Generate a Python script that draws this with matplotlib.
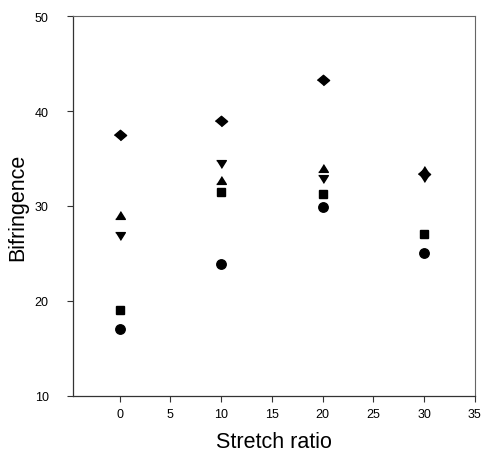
import matplotlib
matplotlib.use("Agg")
import matplotlib.pyplot as plt

# Stretch ratios and birefringence readings for five samples
stretch = [0, 10, 20, 30]
circle_vals = [17.1, 23.9, 29.9, 25.1]
square_vals = [19.0, 31.5, 31.3, 27.1]
tri_up_vals = [29.0, 32.7, 34.0, 33.8]
tri_down_vals = [26.8, 34.4, 32.8, 32.9]
diamond_vals = [37.5, 39.0, 43.3, 33.4]

x_ticks = [0, 5, 10, 15, 20, 25, 30, 35]
y_ticks = [10, 20, 30, 40, 50]

plt.rcParams["font.family"] = ["Liberation Sans", "DejaVu Sans"]

fig = plt.figure(figsize=(4.87, 4.60), dpi=100)
ax = fig.add_axes([0.150, 0.137, 0.825, 0.826])

tri_up = [(-1.0, -0.8), (1.0, -0.8), (0.0, 0.8)]
tri_down = [(-1.0, 0.8), (1.0, 0.8), (0.0, -0.8)]
diamond = [(-1.0, 0.0), (0.0, 0.85), (1.0, 0.0), (0.0, -0.85)]

ax.plot(stretch, circle_vals, linestyle="none", marker="o", markersize=6.8,
        color="black")
ax.plot(stretch, square_vals, linestyle="none", marker="s", markersize=6.0,
        color="black")
ax.plot(stretch, tri_up_vals, linestyle="none", marker=tri_up, markersize=7.0,
        color="black")
ax.plot(stretch, tri_down_vals, linestyle="none", marker=tri_down,
        markersize=7.0, color="black")
ax.plot(stretch, diamond_vals, linestyle="none", marker=diamond,
        markersize=8.8, color="black")

ax.set_xlim(-4.6, 35)
ax.set_ylim(10, 50)
ax.set_xticks(x_ticks)
ax.set_yticks(y_ticks)

for side in ["left", "bottom"]:
    ax.spines[side].set_color("#333333")
    ax.spines[side].set_linewidth(0.9)
for side in ["top", "right"]:
    ax.spines[side].set_color("#666666")
    ax.spines[side].set_linewidth(0.8)

ax.tick_params(axis="x", direction="out", length=4.5, width=0.8,
               colors="#333333", labelcolor="black", labelsize=9, pad=4)
ax.tick_params(axis="y", direction="out", length=4.5, width=0.8,
               colors="#333333", labelcolor="black", labelsize=9, pad=13)

ax.set_xlabel("Stretch ratio", fontsize=15.5, labelpad=8)
ax.set_ylabel("Bifringence", fontsize=15.5, labelpad=5)

fig.savefig("out.png", dpi=100)
